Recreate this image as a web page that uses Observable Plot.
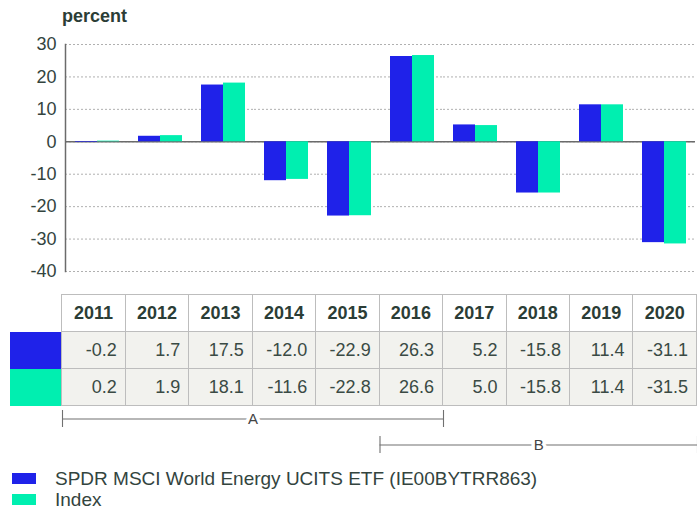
<!DOCTYPE html>
<html>
<head>
<meta charset="utf-8">
<script src="https://cdn.jsdelivr.net/npm/d3@7"></script>
<script src="https://cdn.jsdelivr.net/npm/@observablehq/plot@0.6"></script>
<style>
  html, body { margin: 0; padding: 0; background: #fff; width: 697px; height: 511px; overflow: hidden; }
  body { position: relative; font-family: "Liberation Sans", Arial, sans-serif; color: #2e3f39; }
  #unit { position: absolute; left: 62px; top: 6px; font-size: 18px; font-weight: bold; color: #2b3d36; }
  #chart { position: absolute; left: 0; top: 30px; }
  #tbl { position: absolute; left: 10px; top: 294px; border-collapse: collapse; table-layout: fixed; }
  #tbl td, #tbl th { border: 1.5px solid #bdbdbd; height: 34px; padding: 0 8px 0 0; font-size: 18px; box-sizing: border-box; }
  #tbl th { background: #fff; font-weight: bold; text-align: center; padding: 0; color: #2b3d36; height: 37px; }
  #tbl td { background: #f2f2ee; text-align: right; color: #3a4a44; height: 37px; }
  #tbl td.sw { border: none; padding: 0; }
  #tbl th.corner { border: none; background: transparent; }
  #brackets { position: absolute; left: 0; top: 405px; }
  #legend { position: absolute; left: 12px; top: 468px; font-size: 19px; color: #33443e; }
  .li { display: flex; align-items: center; height: 21px; }
  .li span.box { display: inline-block; width: 24px; height: 11px; margin-right: 19px; }
</style>
</head>
<body>
<div id="unit"></div>
<div id="chart"></div>
<table id="tbl"></table>
<div id="brackets"></div>
<div id="legend"></div>
<script>
const unitLabel = "percent";
const years = ["2011","2012","2013","2014","2015","2016","2017","2018","2019","2020"];
const fundValues = [-0.2, 1.7, 17.5, -12.0, -22.9, 26.3, 5.2, -15.8, 11.4, -31.1];
const indexValues = [0.2, 1.9, 18.1, -11.6, -22.8, 26.6, 5.0, -15.8, 11.4, -31.5];
const seriesNames = ["SPDR MSCI World Energy UCITS ETF (IE00BYTRR863)", "Index"];
const seriesColors = ["#1f22e9", "#00efb0"];
const yTicks = [-40, -30, -20, -10, 0, 10, 20, 30];
const periodLabels = ["A", "B"];
const periodStarts = ["2011", "2016"];
const periodEnds = ["2016", "2020"];

document.getElementById("unit").textContent = unitLabel;

const seriesValues = [fundValues, indexValues];
const rows = [];
years.forEach((yr, i) => {
  seriesNames.forEach((s, j) => rows.push({year: yr, series: s, value: seriesValues[j][i]}));
});

const chart = Plot.plot({
  width: 697,
  height: 251,
  marginLeft: 62,
  marginRight: 0,
  marginTop: 14,
  marginBottom: 10,
  style: {fontFamily: "'Liberation Sans', Arial, sans-serif", fontSize: "18px", color: "#33443e", background: "transparent", overflow: "visible"},
  fx: {domain: years, padding: 0, axis: null},
  x: {domain: seriesNames, paddingInner: 0, paddingOuter: 0.38, axis: null},
  y: {domain: [-40, 30], axis: null},
  color: {domain: seriesNames, range: seriesColors},
  marks: [
    Plot.gridY(yTicks, {stroke: "#b0b0b0", strokeOpacity: 1, strokeDasharray: "2,2"}),
    Plot.ruleY([0], {stroke: "#6b6b6b", strokeWidth: 1.5}),
    Plot.barY(rows, {fx: "year", x: "series", y: "value", fill: "series"}),
    Plot.axisY(yTicks, {tickSize: 0, tickPadding: 9, fontSize: 18, fill: "#33443e", label: null, tickFormat: d => String(d)}),
    Plot.frame({anchor: "left", facetAnchor: "left", stroke: "#6b6b6b", strokeWidth: 1.5})
  ]
});
document.getElementById("chart").appendChild(chart);

// Table
const tbl = document.getElementById("tbl");
const colW = 635 / years.length;
let html = "<colgroup><col style='width:52px'>" + years.map(() => `<col style='width:${colW}px'>`).join("") + "</colgroup>";
html += "<tr><th class='corner'></th>" + years.map(y => `<th>${y}</th>`).join("") + "</tr>";
seriesNames.forEach((s, j) => {
  html += `<tr><td class='sw' style='background:${seriesColors[j]}'></td>` +
    seriesValues[j].map(v => `<td>${v.toFixed(1)}</td>`).join("") + "</tr>";
});
tbl.innerHTML = html;

// Brackets
const brackets = periodLabels.map((l, i) => ({label: l, x1: years.indexOf(periodStarts[i]), x2: years.indexOf(periodEnds[i]) + 1}));
const br = Plot.plot({
  width: 697,
  height: 53,
  marginLeft: 62,
  marginRight: 0,
  marginTop: 4,
  marginBottom: 4,
  style: {fontFamily: "'Liberation Sans', Arial, sans-serif", background: "transparent", overflow: "visible"},
  x: {domain: [0, years.length], axis: null},
  y: {domain: periodLabels, paddingInner: 0.333, paddingOuter: 0, axis: null},
  marks: [
    Plot.ruleY(brackets, {y: "label", x1: "x1", x2: "x2", stroke: "#707070", strokeWidth: 1.1}),
    Plot.tickX(brackets, {x: "x1", y: "label", stroke: "#707070", strokeWidth: 1.1}),
    Plot.tickX(brackets, {x: "x2", y: "label", stroke: "#707070", strokeWidth: 1.1}),
    Plot.text(brackets, {x: d => (d.x1 + d.x2) / 2, y: "label", text: "label", fill: "#444", stroke: "white", strokeWidth: 7, fontSize: 15})
  ]
});
document.getElementById("brackets").appendChild(br);

// Legend
document.getElementById("legend").innerHTML = seriesNames.map((s, j) =>
  `<div class='li'><span class='box' style='background:${seriesColors[j]}'></span>${s}</div>`).join("");
</script>
</body>
</html>
